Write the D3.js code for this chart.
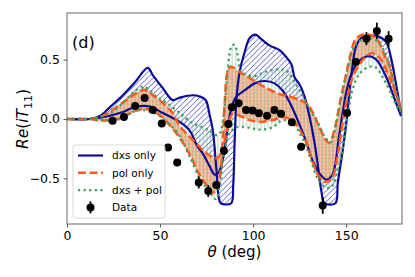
<!DOCTYPE html>
<html>
<head>
<meta charset="utf-8">
<script src="https://cdn.jsdelivr.net/npm/d3@7"></script>
<style>
	body {margin:0; background:#fff;}
	text {font-family:"DejaVu Sans", sans-serif;}
</style>
</head>
<body>
<div id="vis"></div>
<script>
const FRAME_WIDTH = 415;
const FRAME_HEIGHT = 277;
const MARGINS = {left:67, right:13, top:13, bottom:53};

//axis ticks
const THETA_TICKS = [0, 50, 100, 150];
const VAL_TICKS = [-0.5, 0, 0.5];
const VAL_TICK_LABELS = ["\u22120.5", "0.0", "0.5"];

//measured data (theta deg, Re(iT11), error)
const DATA_THETA = [24.5,30.6,36.6,41.7,46.1,50.9,54.3,59.2,70.8,75.9,80.2,84.3,86.7,88.6,92.2,96.2,99.7,103.1,107.5,111.4,115.0,120.8,125.8,137.4,150.5,155.2,160.9,166.5,172.8];
const DATA_VAL = [-0.014,0.017,0.110,0.177,0.076,-0.038,-0.240,-0.367,-0.535,-0.607,-0.556,-0.267,-0.042,0.099,0.132,0.076,0.072,0.048,0.028,0.076,0.045,-0.027,-0.234,-0.729,0.051,0.481,0.677,0.742,0.675];
const DATA_ERR = [0.02,0.02,0.02,0.02,0.02,0.02,0.02,0.02,0.05,0.05,0.03,0.02,0.02,0.02,0.02,0.02,0.02,0.02,0.02,0.02,0.02,0.02,0.02,0.07,0.02,0.03,0.055,0.07,0.065];

//dxs only band edges [theta, value]
const DXS_A = [[0,0],[12.3,0],[17.7,0.025],[23.1,0.10],[30.0,0.20],[36.5,0.31],[43.4,0.43],[46.1,0.37],[51.5,0.26],[56.8,0.16],[60.6,0.18],[67.6,0.20],[71.3,0.19],[74.5,0.16],[76.7,0.03],[78.3,-0.09],[80.3,-0.43],[81.5,-0.66],[82.6,-0.71],[88.2,-0.71],[89.3,-0.56],[90.1,-0.18],[91.2,0.20],[92.8,0.40],[95.4,0.56],[98.1,0.68],[101.3,0.71],[104.6,0.67],[108.8,0.62],[114.2,0.58],[117.9,0.52],[120.6,0.46],[122.3,0.35],[125.0,0.29],[127.6,0.19],[130.3,0.02],[133.0,-0.20],[134.6,-0.37],[136.6,-0.60],[138.4,-0.71],[144.2,-0.71],[145.5,-0.54],[148.2,-0.26],[150.4,0.01],[152.8,0.37],[155.5,0.62],[158.7,0.69],[162.5,0.70],[166.2,0.70],[171.4,0.65],[174.3,0.50],[176.4,0.33],[179.5,0.05]];
const DXS_B = [[0,0],[12.3,0],[17.7,0.01],[28.4,0.05],[37.5,0.105],[44.5,0.105],[51.5,0.05],[60.6,-0.025],[66.0,-0.10],[69.7,-0.22],[72.9,-0.29],[76.7,-0.40],[79.4,-0.47],[81.5,-0.45],[83.6,-0.35],[85.8,-0.13],[87.9,0.06],[90.6,0.18],[95.4,0.24],[100.8,0.30],[106.2,0.32],[111.5,0.30],[115.8,0.24],[119.6,0.14],[125.0,-0.05],[128.7,-0.20],[131.9,-0.35],[135.7,-0.46],[139.4,-0.51],[142.6,-0.47],[146.3,-0.13],[150.1,0.23],[152.8,0.38],[155.5,0.46],[158.7,0.51],[161.9,0.53],[166.2,0.50],[171.6,0.35],[176.9,0.13],[179.5,0.025]];

//pol only band edges
const POL_A = [[0,0],[12.3,0],[17.7,0.015],[23.1,0.06],[30.1,0.14],[37.5,0.22],[40.8,0.245],[42.9,0.24],[46.1,0.20],[51.5,0.135],[56.8,0.05],[60.6,-0.06],[66.0,-0.15],[72.9,-0.26],[76.7,-0.31],[79.4,-0.33],[81.5,-0.32],[83.1,-0.26],[84.7,0.135],[86.3,0.40],[87.9,0.44],[93.3,0.39],[98.1,0.345],[107.2,0.26],[114.2,0.21],[119.6,0.19],[125.0,0.16],[128.7,0.13],[131.9,0.06],[135.7,-0.07],[139.2,-0.18],[141.0,-0.20],[143.7,-0.09],[146.9,0.16],[149.6,0.35],[152.3,0.54],[155.0,0.67],[158.7,0.71],[162.5,0.71],[166.8,0.67],[170.5,0.54],[173.2,0.455],[175.9,0.26],[179.5,0.075]];
const POL_B = [[0,0],[12.3,0],[17.7,-0.015],[28.4,0.005],[35.4,0.06],[40.8,0.085],[48.3,0.05],[53.6,-0.025],[60.6,-0.16],[66.0,-0.30],[70.8,-0.46],[75.1,-0.56],[78.3,-0.62],[80.4,-0.60],[82.0,-0.50],[83.6,-0.30],[86.3,-0.075],[89.0,0.04],[94.4,0.015],[98.1,-0.01],[103.5,-0.025],[110.5,-0.01],[115.8,0.015],[121.2,-0.01],[125.0,-0.09],[128.7,-0.20],[131.9,-0.36],[135.7,-0.49],[139.4,-0.53],[142.6,-0.49],[145.3,-0.32],[148.0,-0.035],[150.7,0.185],[153.4,0.345],[157.1,0.46],[160.9,0.53],[164.1,0.555],[168.4,0.505],[173.7,0.33],[179.5,0.09]];

//dxs + pol band edges
const BOTH_A = [[0,0],[12.3,0],[23.1,0.05],[30.0,0.135],[35.4,0.22],[40.2,0.27],[42.9,0.26],[48.3,0.185],[53.6,0.135],[60.6,0.05],[67.6,-0.035],[72.9,-0.07],[76.7,-0.10],[79.9,-0.135],[82.0,-0.125],[84.2,0.035],[86.3,0.41],[88.5,0.615],[90.1,0.625],[91.7,0.54],[93.3,0.40],[95.4,0.38],[99.7,0.36],[107.2,0.40],[114.2,0.42],[118.5,0.40],[122.3,0.31],[126.5,0.20],[130.8,0.075],[135.7,-0.06],[138.9,-0.16],[141.6,-0.195],[144.2,-0.075],[146.9,0.145],[149.6,0.345],[152.3,0.515],[155.0,0.625],[158.2,0.665],[162.0,0.68],[165.7,0.665],[169.4,0.60],[173.2,0.455],[176.4,0.26],[179.5,0.05]];
const BOTH_B = [[0,0],[12.3,0],[17.7,-0.01],[28.4,0],[35.4,0.06],[40.8,0.075],[48.3,0.04],[53.6,-0.025],[60.6,-0.145],[66.0,-0.32],[71.3,-0.50],[76.7,-0.615],[79.9,-0.675],[82.0,-0.57],[83.6,-0.36],[85.3,-0.22],[87.4,-0.12],[91.2,-0.07],[96.5,-0.07],[103.5,-0.09],[110.5,-0.07],[115.8,-0.01],[121.2,-0.04],[126.5,-0.16],[130.3,-0.31],[134.0,-0.48],[137.8,-0.565],[141.6,-0.58],[144.8,-0.47],[148.0,-0.26],[150.7,0.01],[153.4,0.245],[157.1,0.38],[162.5,0.44],[166.2,0.43],[169.4,0.355],[173.2,0.245],[177.5,0.10],[179.5,0.06]];

const COLORS = {dxs:"#0c0c96", pol:"#ff5a1a", both:"#3c9e5f"};

const VIS_WIDTH = FRAME_WIDTH - MARGINS.left - MARGINS.right;
const VIS_HEIGHT = FRAME_HEIGHT - MARGINS.top - MARGINS.bottom;

const FRAME = d3.select("#vis")
	.append("svg")
		.attr("width", FRAME_WIDTH)
		.attr("height", FRAME_HEIGHT);

const X_SCALE = d3.scaleLinear()
	.domain([0, 180])
	.range([MARGINS.left, MARGINS.left + VIS_WIDTH]);

const Y_SCALE = d3.scaleLinear()
	.domain([-0.885, 0.893])
	.range([MARGINS.top + VIS_HEIGHT, MARGINS.top]);

//hatch patterns
const DEFS = FRAME.append("defs");

DEFS.append("clipPath").attr("id", "plotClip")
	.append("rect")
		.attr("x", MARGINS.left).attr("y", MARGINS.top)
		.attr("width", VIS_WIDTH).attr("height", VIS_HEIGHT);

const PAT_BLUE = DEFS.append("pattern")
	.attr("id", "hatchBlue")
	.attr("patternUnits", "userSpaceOnUse")
	.attr("width", 5.5).attr("height", 5.5);
PAT_BLUE.append("path")
	.attr("d", "M-1,1 L1,-1 M0,5.5 L5.5,0 M4.5,6.5 L6.5,4.5")
	.attr("stroke", "#3434b4")
	.attr("stroke-width", 0.8);

const PAT_ORANGE = DEFS.append("pattern")
	.attr("id", "hatchOrange")
	.attr("patternUnits", "userSpaceOnUse")
	.attr("width", 3.6).attr("height", 3.6);
PAT_ORANGE.append("rect")
	.attr("width", 3.6).attr("height", 3.6)
	.attr("fill", "#fab79a");
PAT_ORANGE.append("path")
	.attr("d", "M0,1.8 L3.6,1.8")
	.attr("stroke", "#fdd9c6")
	.attr("stroke-width", 0.7);

const PAT_GREEN = DEFS.append("pattern")
	.attr("id", "hatchGreen")
	.attr("patternUnits", "userSpaceOnUse")
	.attr("width", 3.6).attr("height", 3.6);
PAT_GREEN.append("path")
	.attr("d", "M1.8,0 L1.8,3.6")
	.attr("stroke", COLORS.both)
	.attr("stroke-width", 0.7)
	.attr("opacity", 0.65);

const LINE = d3.line()
	.x((d) => {return X_SCALE(d[0]);})
	.y((d) => {return Y_SCALE(d[1]);})
	.curve(d3.curveCatmullRom.alpha(0.5));

const BAND = d3.line()
	.x((d) => {return X_SCALE(d[0]);})
	.y((d) => {return Y_SCALE(d[1]);})
	.curve(d3.curveCatmullRomClosed.alpha(0.5));

const PLOT = FRAME.append("g").attr("clip-path", "url(#plotClip)");

//bands: edge A forward then edge B backwards
function drawBand(a, b, fill) {
	PLOT.append("path")
		.attr("d", BAND(a.concat(b.slice(1).reverse())))
		.attr("fill", fill)
		.attr("stroke", "none");
}
drawBand(DXS_A, DXS_B, "url(#hatchBlue)");
drawBand(POL_A, POL_B, "url(#hatchOrange)");
drawBand(BOTH_A, BOTH_B, "url(#hatchGreen)");

//band edge lines
function drawEdge(pts, color, width, dash) {
	PLOT.append("path")
		.attr("d", LINE(pts))
		.attr("fill", "none")
		.attr("stroke", color)
		.attr("stroke-width", width)
		.attr("stroke-dasharray", dash);
}
[DXS_A, DXS_B].forEach((c) => {drawEdge(c, COLORS.dxs, 2.2, null);});
[POL_A, POL_B].forEach((c) => {drawEdge(c, COLORS.pol, 2.5, "8,3.6");});
[BOTH_A, BOTH_B].forEach((c) => {drawEdge(c, COLORS.both, 2.3, "2.2,3.4");});

//data with error bars
const DATA = DATA_THETA.map((t, i) => {return {t:t, v:DATA_VAL[i], e:DATA_ERR[i]};});

PLOT.selectAll(".err")
	.data(DATA)
	.enter()
	.append("line")
		.attr("class", "err")
		.attr("x1", (d) => {return X_SCALE(d.t);})
		.attr("x2", (d) => {return X_SCALE(d.t);})
		.attr("y1", (d) => {return Y_SCALE(d.v - d.e);})
		.attr("y2", (d) => {return Y_SCALE(d.v + d.e);})
		.attr("stroke", "#000")
		.attr("stroke-width", 1.8);

PLOT.selectAll(".point")
	.data(DATA)
	.enter()
	.append("circle")
		.attr("class", "point")
		.attr("cx", (d) => {return X_SCALE(d.t);})
		.attr("cy", (d) => {return Y_SCALE(d.v);})
		.attr("r", 4)
		.attr("fill", "#000");

//axes
const X_AXIS = FRAME.append("g")
	.attr("transform", "translate(0," + (MARGINS.top + VIS_HEIGHT) + ")")
	.call(d3.axisBottom(X_SCALE).tickValues(THETA_TICKS).tickSize(3.5).tickPadding(3.5));

const Y_AXIS = FRAME.append("g")
	.attr("transform", "translate(" + MARGINS.left + ",0)")
	.call(d3.axisLeft(Y_SCALE).tickValues(VAL_TICKS).tickSize(3.5).tickPadding(3.5)
		.tickFormat((d, i) => {return VAL_TICK_LABELS[i];}));

[X_AXIS, Y_AXIS].forEach((ax) => {
	ax.select(".domain").remove();
	ax.selectAll("line").attr("stroke", "#555");
	ax.selectAll("text")
		.attr("font-size", "12.5px")
		.attr("font-family", "DejaVu Sans")
		.attr("fill", "#000");
});

//frame
FRAME.append("rect")
	.attr("x", MARGINS.left)
	.attr("y", MARGINS.top)
	.attr("width", VIS_WIDTH)
	.attr("height", VIS_HEIGHT)
	.attr("fill", "none")
	.attr("stroke", "#666")
	.attr("stroke-width", 1);

//panel label
FRAME.append("text")
	.attr("x", MARGINS.left + 5)
	.attr("y", MARGINS.top + 35)
	.attr("font-size", "16px")
	.text("(d)");

//axis labels
const X_LABEL = FRAME.append("text")
	.attr("x", MARGINS.left + VIS_WIDTH / 2)
	.attr("y", 257)
	.attr("text-anchor", "middle")
	.attr("font-size", "15px");
X_LABEL.append("tspan").attr("font-style", "italic").text("\u03b8");
X_LABEL.append("tspan").text(" (deg)");

const Y_LABEL = FRAME.append("text")
	.attr("transform", "translate(28," + Y_SCALE(0) + ") rotate(-90)")
	.attr("text-anchor", "middle")
	.attr("font-size", "15.5px");
Y_LABEL.append("tspan").attr("font-style", "italic").text("Re");
Y_LABEL.append("tspan").text("(");
Y_LABEL.append("tspan").attr("font-style", "italic").text("iT");
Y_LABEL.append("tspan").attr("font-size", "11px").attr("dy", 4).text("11");
Y_LABEL.append("tspan").attr("dy", -4).text(")");

//legend
const LEGEND_ITEMS = ["dxs only", "pol only", "dxs + pol", "Data"];
const LEGEND = FRAME.append("g").attr("transform", "translate(73,145)");
LEGEND.append("rect")
	.attr("width", 92).attr("height", 73)
	.attr("rx", 2.5)
	.attr("fill", "#fff")
	.attr("fill-opacity", 0.8)
	.attr("stroke", "#d0d0d0")
	.attr("stroke-width", 0.8);

const ROW_Y = (i) => {return 10.5 + i * 17.3;};
LEGEND.append("line").attr("x1", 5).attr("x2", 30).attr("y1", ROW_Y(0)).attr("y2", ROW_Y(0))
	.attr("stroke", COLORS.dxs).attr("stroke-width", 2.2);
LEGEND.append("line").attr("x1", 5).attr("x2", 30).attr("y1", ROW_Y(1)).attr("y2", ROW_Y(1))
	.attr("stroke", COLORS.pol).attr("stroke-width", 2.5).attr("stroke-dasharray", "8,3.6");
LEGEND.append("line").attr("x1", 5).attr("x2", 30).attr("y1", ROW_Y(2)).attr("y2", ROW_Y(2))
	.attr("stroke", COLORS.both).attr("stroke-width", 2.3).attr("stroke-dasharray", "2.2,3.4");
LEGEND.append("line").attr("x1", 17.5).attr("x2", 17.5).attr("y1", ROW_Y(3) - 6).attr("y2", ROW_Y(3) + 6)
	.attr("stroke", "#000").attr("stroke-width", 1.8);
LEGEND.append("circle").attr("cx", 17.5).attr("cy", ROW_Y(3)).attr("r", 4).attr("fill", "#000");

LEGEND.selectAll(".legtext")
	.data(LEGEND_ITEMS)
	.enter()
	.append("text")
		.attr("class", "legtext")
		.attr("x", 39)
		.attr("y", (d, i) => {return ROW_Y(i) + 3.8;})
		.attr("font-size", "10.5px")
		.text((d) => {return d;});
</script>
</body>
</html>
